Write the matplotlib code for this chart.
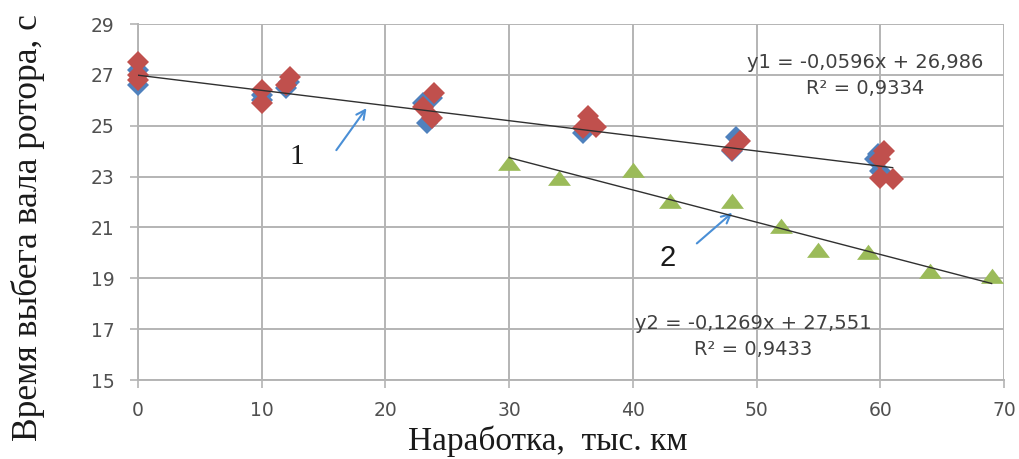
import matplotlib
matplotlib.use("Agg")
import matplotlib.pyplot as plt
import numpy as np
from matplotlib.path import Path

# ---- data ----
blue_x = [0, 0, 10, 10, 12, 12.2, 23, 23.4, 23.8, 36, 36.3, 48.3, 48, 59.6, 60, 59.8]
blue_y = [26.6, 27.2, 26.2, 26.0, 26.5, 26.7, 25.9, 25.1, 26.1, 24.7, 24.9, 24.55, 24.0, 23.7, 23.2, 23.9]
red_x = [0, 0, 0, 10, 10, 12, 12.3, 23, 23.8, 23.9, 36, 36.4, 37, 48, 48.7, 60, 60.3, 60, 61]
red_y = [27.5, 27.0, 26.8, 26.4, 25.9, 26.6, 26.9, 25.75, 25.3, 26.3, 24.9, 25.4, 24.95, 24.05, 24.4, 23.7, 24.0, 22.95, 22.9]
green_x = [30, 34, 40, 43, 48, 52, 55, 59, 64, 69]
green_y = [23.55, 22.95, 23.25, 22.05, 22.05, 21.05, 20.1, 20.05, 19.3, 19.1]

trend1 = (-0.0596, 26.986)   # slope, intercept
trend1_x = [0, 61]
trend2 = (-0.1269, 27.551)
trend2_x = [30, 69]

eq1 = "y1 = -0,0596x + 26,986"
r1 = "R² = 0,9334"
eq2 = "y2 = -0,1269x + 27,551"
r2 = "R² = 0,9433"

x_ticks = [0, 10, 20, 30, 40, 50, 60, 70]
y_ticks = [15, 17, 19, 21, 23, 25, 27, 29]
xlabel = "Наработка,  тыс. км"
ylabel = "Время выбега вала ротора, с"

# ---- figure ----
W, H = 1019, 459
fig = plt.figure(figsize=(W / 100, H / 100), dpi=100)
ax = fig.add_axes([138 / W, 1 - 380 / H, (1004 - 138) / W, (380 - 24) / H])

grid_c = "#b4b4b4"
ax.set_xlim(0, 70)
ax.set_ylim(15, 29)
ax.set_xticks(x_ticks)
ax.set_yticks(y_ticks)
ax.grid(True, color=grid_c, linewidth=1.4, zorder=0)
ax.set_axisbelow(True)
for s in ["top", "right"]:
    ax.spines[s].set_visible(False)
for s in ["left", "bottom"]:
    ax.spines[s].set_color(grid_c)
    ax.spines[s].set_linewidth(1.4)
ax.tick_params(axis="both", direction="out", length=6, color=grid_c, width=1.2,
               labelsize=13.5, labelcolor="#505050")
ax.tick_params(axis="x", pad=9)
ax.tick_params(axis="y", pad=11)
for lab in ax.get_xticklabels() + ax.get_yticklabels():
    lab.set_fontfamily("DejaVu Sans")

ax.plot(blue_x, blue_y, linestyle="none", marker="D", markersize=11.5,
        color="#4F81BD", markeredgewidth=0, zorder=3, clip_on=False)
ax.plot(red_x, red_y, linestyle="none", marker="D", markersize=11.5,
        color="#C0504D", markeredgewidth=0, zorder=4, clip_on=False)

tri = Path([(-1.25, -0.8), (1.25, -0.8), (0, 0.85), (-1.25, -0.8)],
           [Path.MOVETO, Path.LINETO, Path.LINETO, Path.CLOSEPOLY])
ax.plot(green_x, green_y, linestyle="none", marker=tri, markersize=16.5,
        color="#9BBB59", markeredgewidth=0, zorder=3, clip_on=False)

tx1 = np.array(trend1_x, dtype=float)
ax.plot(tx1, trend1[0] * tx1 + trend1[1], color="#303030", linewidth=1.0, zorder=5)
tx2 = np.array(trend2_x, dtype=float)
ax.plot(tx2, trend2[0] * tx2 + trend2[1], color="#303030", linewidth=1.0, zorder=5)

eqfont = dict(family="DejaVu Sans", fontsize=14, color="#404040", ha="center", va="center")
ax.text(58.8, 27.5, eq1, **eqfont, zorder=6)
ax.text(58.8, 26.47, r1, **eqfont, zorder=6)
ax.text(49.7, 17.24, eq2, **eqfont, zorder=6)
ax.text(49.7, 16.18, r2, **eqfont, zorder=6)

arrow_c = "#4a8fd6"
ax.text(12.85, 23.77, "1", family="Liberation Serif", fontsize=21, color="#1a1a1a",
        ha="center", va="center")
ax.annotate("", xy=(18.6, 25.78), xytext=(15.9, 23.95),
            arrowprops=dict(arrowstyle="->", color=arrow_c, lw=1.5, mutation_scale=16))
ax.text(42.8, 19.8, "2", family="Liberation Sans", fontsize=21, color="#1a1a1a",
        ha="center", va="center")
ax.annotate("", xy=(48.2, 21.65), xytext=(45.0, 20.3),
            arrowprops=dict(arrowstyle="->", color=arrow_c, lw=1.5, mutation_scale=16))

fig.text(548 / W, 1 - 441 / H, xlabel, family="Liberation Serif", fontsize=24,
         color="#1a1a1a", ha="center", va="center")
fig.text(28 / W, 1 - 228 / H, ylabel, family="Liberation Serif", fontsize=25.5,
         color="#1a1a1a", ha="center", va="center", rotation=90)

fig.savefig("out.png", dpi=100)
